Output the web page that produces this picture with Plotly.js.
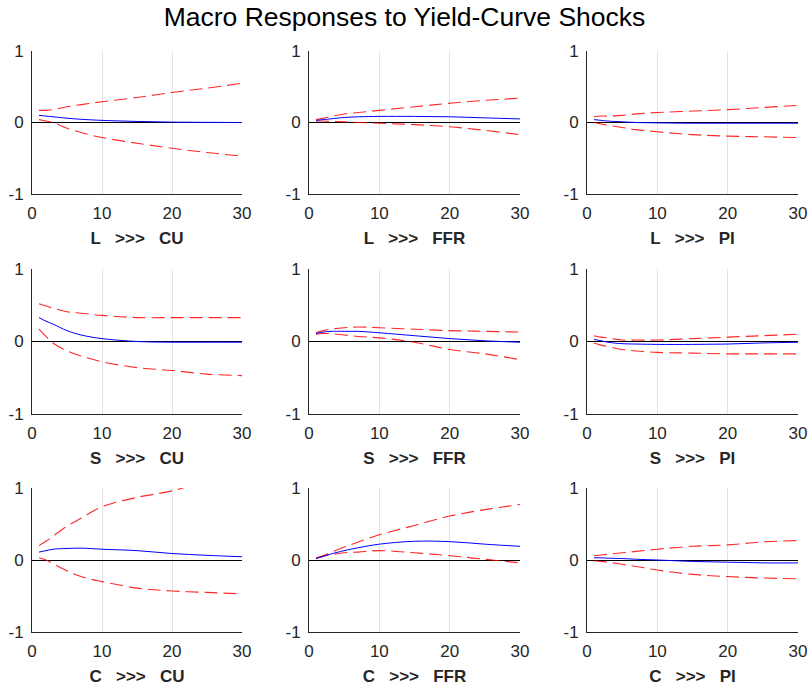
<!DOCTYPE html>
<html>
<head>
<meta charset="utf-8">
<script src="https://cdn.plot.ly/plotly-3.0.1.min.js"></script>
<style>html,body{margin:0;padding:0;background:#fff;}#chart{width:809px;height:686px;}</style>
</head>
<body>
<div id="chart"></div>
<script>
// Horizon (periods)
const horizon = [1, 2, 3, 5, 7, 10, 15, 20, 25, 30];

// Panel labels: shock >>> response
const shocks = ["L", "S", "C"];
const responses = ["CU", "FFR", "PI"];

// L shock
const L_CU_irf   = [0.10, 0.09, 0.08, 0.06, 0.045, 0.03, 0.015, 0.005, 0.002, 0.0];
const L_CU_up    = [0.17, 0.17, 0.18, 0.22, 0.25, 0.29, 0.35, 0.42, 0.48, 0.55];
const L_CU_lo    = [0.04, 0.02, 0.0, -0.08, -0.14, -0.21, -0.29, -0.36, -0.42, -0.47];

const L_FFR_irf  = [0.03, 0.04, 0.05, 0.07, 0.08, 0.085, 0.085, 0.08, 0.065, 0.05];
const L_FFR_up   = [0.04, 0.06, 0.08, 0.12, 0.14, 0.17, 0.22, 0.27, 0.31, 0.34];
const L_FFR_lo   = [0.02, 0.02, 0.015, 0.01, 0.0, -0.01, -0.03, -0.06, -0.11, -0.17];

const L_PI_irf   = [0.04, 0.03, 0.02, 0.01, 0.0, -0.005, -0.01, -0.01, -0.01, -0.01];
const L_PI_up    = [0.08, 0.09, 0.09, 0.10, 0.12, 0.14, 0.16, 0.18, 0.21, 0.24];
const L_PI_lo    = [0.0, -0.02, -0.04, -0.07, -0.10, -0.13, -0.17, -0.19, -0.20, -0.21];

// S shock
const S_CU_irf   = [0.33, 0.28, 0.24, 0.15, 0.09, 0.04, 0.0, -0.01, -0.01, -0.01];
const S_CU_up    = [0.52, 0.49, 0.46, 0.41, 0.39, 0.36, 0.33, 0.33, 0.33, 0.33];
const S_CU_lo    = [0.17, 0.07, -0.02, -0.13, -0.20, -0.28, -0.36, -0.40, -0.45, -0.47];

const S_FFR_irf  = [0.11, 0.13, 0.14, 0.14, 0.14, 0.12, 0.08, 0.04, 0.01, -0.01];
const S_FFR_up   = [0.12, 0.15, 0.17, 0.19, 0.20, 0.19, 0.17, 0.15, 0.14, 0.13];
const S_FFR_lo   = [0.10, 0.11, 0.11, 0.09, 0.07, 0.05, -0.01, -0.11, -0.17, -0.25];

const S_PI_irf   = [0.03, 0.01, -0.01, -0.03, -0.035, -0.04, -0.04, -0.035, -0.02, -0.01];
const S_PI_up    = [0.08, 0.06, 0.05, 0.02, 0.02, 0.02, 0.04, 0.06, 0.08, 0.10];
const S_PI_lo    = [-0.02, -0.05, -0.07, -0.11, -0.13, -0.15, -0.16, -0.17, -0.17, -0.17];

// C shock
const C_CU_irf   = [0.11, 0.13, 0.15, 0.16, 0.165, 0.15, 0.13, 0.09, 0.065, 0.045];
const C_CU_up    = [0.20, 0.26, 0.33, 0.47, 0.58, 0.74, 0.87, 0.96, 1.10, 1.22];
const C_CU_lo    = [0.03, 0.0, -0.05, -0.15, -0.23, -0.30, -0.39, -0.43, -0.45, -0.47];

const C_FFR_irf  = [0.02, 0.05, 0.08, 0.13, 0.17, 0.22, 0.26, 0.255, 0.22, 0.19];
const C_FFR_up   = [0.03, 0.06, 0.10, 0.18, 0.25, 0.35, 0.48, 0.61, 0.70, 0.77];
const C_FFR_lo   = [0.02, 0.05, 0.07, 0.10, 0.11, 0.13, 0.10, 0.06, 0.01, -0.04];

const C_PI_irf   = [0.03, 0.03, 0.025, 0.02, 0.01, 0.0, -0.02, -0.03, -0.04, -0.04];
const C_PI_up    = [0.06, 0.07, 0.08, 0.10, 0.12, 0.15, 0.19, 0.21, 0.25, 0.27];
const C_PI_lo    = [-0.01, -0.02, -0.03, -0.06, -0.09, -0.14, -0.20, -0.23, -0.25, -0.26];

const xTicks = [0, 10, 20, 30];
const yTicks = [-1, 0, 1];

const panels = [
  [[L_CU_irf, L_CU_up, L_CU_lo], [L_FFR_irf, L_FFR_up, L_FFR_lo], [L_PI_irf, L_PI_up, L_PI_lo]],
  [[S_CU_irf, S_CU_up, S_CU_lo], [S_FFR_irf, S_FFR_up, S_FFR_lo], [S_PI_irf, S_PI_up, S_PI_lo]],
  [[C_CU_irf, C_CU_up, C_CU_lo], [C_FFR_irf, C_FFR_up, C_FFR_lo], [C_PI_irf, C_PI_up, C_PI_lo]]
];

const W = 809, H = 686;
const colPx = [[32, 242], [309, 520], [587, 798]];
const rowPx = [[51, 194], [269, 414], [488, 632]];

const font = "Liberation Sans, Arial, Helvetica, sans-serif";
const nb = "\u00A0";
const traces = [];
const layout = {
  width: W, height: H,
  margin: {l: 0, r: 0, t: 0, b: 0},
  paper_bgcolor: "#ffffff", plot_bgcolor: "#ffffff",
  showlegend: false,
  font: {family: font, color: "#262626"},
  title: {text: "Macro Responses to Yield-Curve Shocks", x: 0.5, xanchor: "center",
          y: 1 - 17 / H, yanchor: "middle", yref: "paper",
          font: {family: font, size: 26.5, color: "#000000"}}
};

let k = 0;
for (let r = 0; r < 3; r++) {
  for (let c = 0; c < 3; c++) {
    k++;
    const xa = k === 1 ? "x" : "x" + k;
    const ya = k === 1 ? "y" : "y" + k;
    const [irf, up, lo] = panels[r][c];
    const dash = {color: "rgba(255,0,0,0.85)", width: 1.1, dash: "13px,6px", shape: "spline"};
    traces.push({x: horizon, y: up, xaxis: xa, yaxis: ya, mode: "lines", line: dash, hoverinfo: "skip"});
    traces.push({x: horizon, y: lo, xaxis: xa, yaxis: ya, mode: "lines", line: dash, hoverinfo: "skip"});
    traces.push({x: horizon, y: irf, xaxis: xa, yaxis: ya, mode: "lines",
                 line: {color: "#0000ff", width: 1, shape: "spline"}, hoverinfo: "skip"});
    const xk = k === 1 ? "xaxis" : "xaxis" + k;
    const yk = k === 1 ? "yaxis" : "yaxis" + k;
    layout[xk] = {
      domain: [colPx[c][0] / W, colPx[c][1] / W],
      anchor: ya, range: [0, 30], tickvals: xTicks, ticktext: xTicks.map(String),
      showgrid: true, gridcolor: "#e3e3e3", gridwidth: 1,
      showline: true, linecolor: "#262626", linewidth: 1, ticks: "", zeroline: false,
      tickfont: {family: font, size: 17, color: "#262626"},
      ticklabelstandoff: 4,
      automargin: false,
      title: {text: "<b>" + shocks[r] + nb + nb + nb + ">>>" + nb + nb + nb + responses[c] + "</b>",
              font: {family: font, size: 17, color: "#262626"}, standoff: 9}
    };
    layout[yk] = {
      domain: [1 - rowPx[r][1] / H, 1 - rowPx[r][0] / H],
      anchor: xa, range: [-1, 1], tickvals: yTicks, ticktext: yTicks.map(String),
      showgrid: false, showline: true, linecolor: "#262626", linewidth: 1, ticks: "",
      zeroline: true, zerolinecolor: "#000000", zerolinewidth: 1,
      tickfont: {family: font, size: 17, color: "#262626"},
      ticklabelstandoff: 4,
      automargin: false
    };
  }
}

Plotly.newPlot("chart", traces, layout, {staticPlot: true, displayModeBar: false});
</script>
</body>
</html>
